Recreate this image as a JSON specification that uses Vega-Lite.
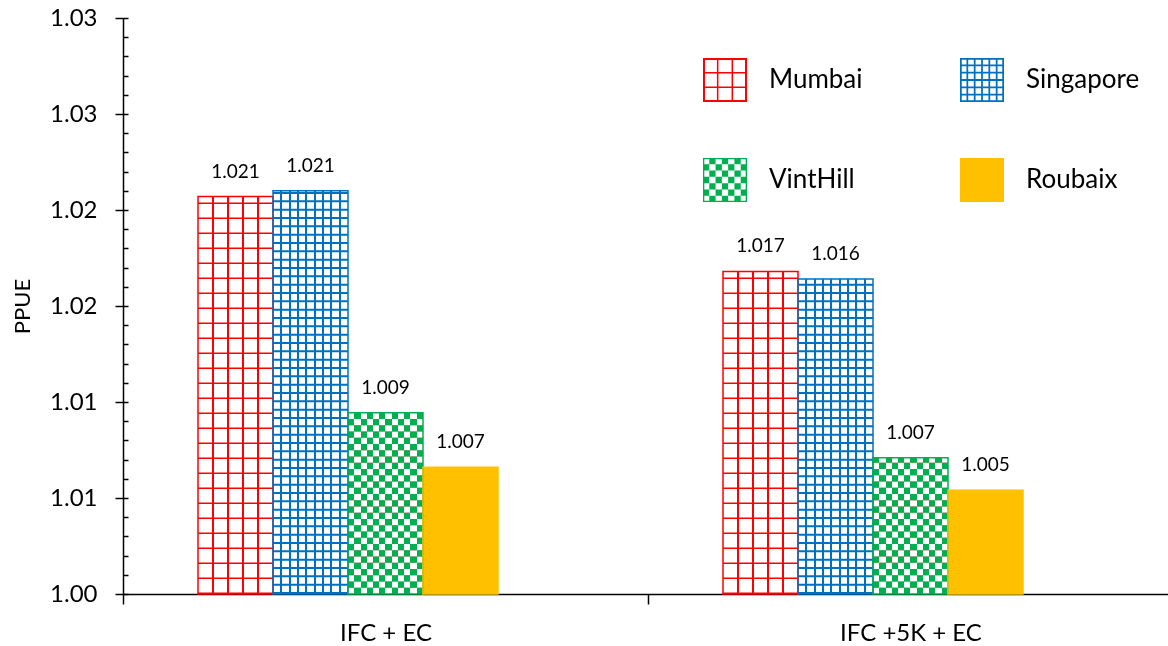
{
  "$schema": "https://vega.github.io/schema/vega-lite/v6.json",
  "width": 1045,
  "height": 576,
  "autosize": {"type": "none"},
  "padding": {"left": 123, "top": 18, "right": 0, "bottom": 52},
  "background": "white",
  "config": {"font": "Lato", "view": {"stroke": null}, "axis": {"grid": false}},
  "data": {
    "values": [
      {"group": "IFC + EC", "city": "Mumbai", "value": 1.0207},
      {"group": "IFC + EC", "city": "Singapore", "value": 1.021},
      {"group": "IFC + EC", "city": "VintHill", "value": 1.00944},
      {"group": "IFC + EC", "city": "Roubaix", "value": 1.0066},
      {"group": "IFC +5K + EC", "city": "Mumbai", "value": 1.0168},
      {"group": "IFC +5K + EC", "city": "Singapore", "value": 1.0164},
      {"group": "IFC +5K + EC", "city": "VintHill", "value": 1.0071},
      {"group": "IFC +5K + EC", "city": "Roubaix", "value": 1.0054}
    ]
  },
  "encoding": {
    "x": {
      "field": "group", "type": "nominal",
      "scale": {"domain": ["IFC + EC", "IFC +5K + EC"], "range": [0, 1050], "paddingInner": 0, "paddingOuter": 0},
      "axis": {"title": null, "tickBand": "extent", "tickSize": 10, "tickWidth": 1.5, "tickColor": "#000", "domainColor": "#000", "domainWidth": 1.5, "labelFontSize": 24, "labelColor": "#000", "labelPadding": 17, "labelAngle": 0}
    },
    "xOffset": {
      "field": "city", "type": "nominal",
      "scale": {"domain": ["Mumbai", "Singapore", "VintHill", "Roubaix", "~"], "paddingInner": 0, "paddingOuter": 1, "align": 0.5}
    },
    "y": {"field": "value", "type": "quantitative", "scale": {"domain": [1, 1.03], "nice": false, "zero": false}, "axis": null}
  },
  "layer": [
    {
      "mark": {"type": "point", "filled": true, "opacity": 1, "size": 16, "strokeWidth": 0},
      "encoding": {
        "y": {"datum": 1.002, "type": "quantitative", "scale": {"domain": [1, 1.03], "nice": false, "zero": false}, "axis": null},
        "color": {
          "field": "city", "type": "nominal",
          "scale": {"domain": ["Mumbai", "Singapore", "VintHill", "Roubaix"], "range": ["#FF0000", "#0070C0", "#00B050", "#FFC000"]},
          "legend": {
            "title": null, "orient": "none", "legendX": 580, "legendY": 40, "columns": 2, "direction": "horizontal",
            "symbolSize": 1936, "symbolStrokeWidth": 0, "symbolOpacity": 1, "labelFontSize": 26, "labelOffset": 22, "labelColor": "#000",
            "rowPadding": 56, "columnPadding": 97, "padding": 0
          }
        },
        "shape": {
          "field": "city", "type": "nominal",
          "scale": {
            "domain": ["Mumbai", "Singapore", "VintHill", "Roubaix"],
            "range": [
              "M-1,-1H1V1H-1Z M-0.91,-0.91V0.91H0.91V-0.91Z M-0.368,-1H-0.298V1H-0.368Z M0.298,-1H0.368V1H0.298Z M-1,-0.368H1V-0.298H-1Z M-1,0.298H1V0.368H-1Z",
              "M-1,-1H1V1H-1Z M-0.92,-0.92V0.92H0.92V-0.92Z M-0.707,-1H-0.627V1H-0.707Z M-0.373,-1H-0.293V1H-0.373Z M-0.04,-1H0.04V1H-0.04Z M0.293,-1H0.373V1H0.293Z M0.627,-1H0.707V1H0.627Z M-1,-0.707H1V-0.627H-1Z M-1,-0.373H1V-0.293H-1Z M-1,-0.04H1V0.04H-1Z M-1,0.293H1V0.373H-1Z M-1,0.627H1V0.707H-1Z",
              "M-1,-1H1V1H-1Z M-0.94,-0.94V0.94H0.94V-0.94Z M-0.7143,-1h0.2857v0.2857h-0.2857z M-0.1429,-1h0.2857v0.2857h-0.2857z M0.4286,-1h0.2857v0.2857h-0.2857z M-1,-0.7143h0.2857v0.2857h-0.2857z M-0.4286,-0.7143h0.2857v0.2857h-0.2857z M0.1429,-0.7143h0.2857v0.2857h-0.2857z M0.7143,-0.7143h0.2857v0.2857h-0.2857z M-0.7143,-0.4286h0.2857v0.2857h-0.2857z M-0.1429,-0.4286h0.2857v0.2857h-0.2857z M0.4286,-0.4286h0.2857v0.2857h-0.2857z M-1,-0.1429h0.2857v0.2857h-0.2857z M-0.4286,-0.1429h0.2857v0.2857h-0.2857z M0.1429,-0.1429h0.2857v0.2857h-0.2857z M0.7143,-0.1429h0.2857v0.2857h-0.2857z M-0.7143,0.1429h0.2857v0.2857h-0.2857z M-0.1429,0.1429h0.2857v0.2857h-0.2857z M0.4286,0.1429h0.2857v0.2857h-0.2857z M-1,0.4286h0.2857v0.2857h-0.2857z M-0.4286,0.4286h0.2857v0.2857h-0.2857z M0.1429,0.4286h0.2857v0.2857h-0.2857z M0.7143,0.4286h0.2857v0.2857h-0.2857z M-0.7143,0.7143h0.2857v0.2857h-0.2857z M-0.1429,0.7143h0.2857v0.2857h-0.2857z M0.4286,0.7143h0.2857v0.2857h-0.2857z",
              "square"
            ]
          },
          "legend": {
            "title": null, "orient": "none", "legendX": 580, "legendY": 40, "columns": 2, "direction": "horizontal",
            "symbolSize": 1936, "symbolStrokeWidth": 0, "symbolOpacity": 1, "labelFontSize": 26, "labelOffset": 22, "labelColor": "#000",
            "rowPadding": 56, "columnPadding": 97, "padding": 0
          }
        }
      }
    },
    {
      "transform": [{"filter": "datum.city === 'Mumbai'"}],
      "mark": {"type": "bar", "fill": {"gradient": "linear", "x1": 0, "y1": 0, "x2": 1, "y2": 0, "stops": [{"offset":0,"color":"#FFFFFF"},{"offset":0.19,"color":"#FFFFFF"},{"offset":0.19,"color":"#FF0000"},{"offset":0.21,"color":"#FF0000"},{"offset":0.21,"color":"#FFFFFF"},{"offset":0.39,"color":"#FFFFFF"},{"offset":0.39,"color":"#FF0000"},{"offset":0.41,"color":"#FF0000"},{"offset":0.41,"color":"#FFFFFF"},{"offset":0.59,"color":"#FFFFFF"},{"offset":0.59,"color":"#FF0000"},{"offset":0.61,"color":"#FF0000"},{"offset":0.61,"color":"#FFFFFF"},{"offset":0.79,"color":"#FFFFFF"},{"offset":0.79,"color":"#FF0000"},{"offset":0.81,"color":"#FF0000"},{"offset":0.81,"color":"#FFFFFF"},{"offset":1,"color":"#FFFFFF"}]}},
      "encoding": {
        "y": {
          "field": "value", "type": "quantitative",
          "scale": {"domain": [1, 1.03], "nice": false, "zero": false},
          "axis": {"orient": "left", "values": [1, 1.005, 1.01, 1.015, 1.02, 1.025, 1.03], "labelExpr": "format(datum.value + 0.000001, '.2f')", "tickSize": 8, "tickWidth": 1.5, "tickColor": "#000", "domainColor": "#000", "domainWidth": 1.5, "labelFontSize": 24, "labelColor": "#000", "labelPadding": 18, "title": "PPUE", "titleFontSize": 22, "titleFontWeight": "normal", "titleColor": "#000", "titlePadding": 15, "grid": false}
        },
        "y2": {"datum": 1}
      }
    },
    {
      "transform": [{"filter": "datum.city === 'Singapore'"}],
      "mark": {"type": "bar", "fill": {"gradient": "linear", "x1": 0, "y1": 0, "x2": 1, "y2": 0, "stops": [{"offset":0,"color":"#FFFFFF"},{"offset":0.098,"color":"#FFFFFF"},{"offset":0.098,"color":"#0070C0"},{"offset":0.124,"color":"#0070C0"},{"offset":0.124,"color":"#FFFFFF"},{"offset":0.209,"color":"#FFFFFF"},{"offset":0.209,"color":"#0070C0"},{"offset":0.235,"color":"#0070C0"},{"offset":0.235,"color":"#FFFFFF"},{"offset":0.32,"color":"#FFFFFF"},{"offset":0.32,"color":"#0070C0"},{"offset":0.346,"color":"#0070C0"},{"offset":0.346,"color":"#FFFFFF"},{"offset":0.431,"color":"#FFFFFF"},{"offset":0.431,"color":"#0070C0"},{"offset":0.457,"color":"#0070C0"},{"offset":0.457,"color":"#FFFFFF"},{"offset":0.543,"color":"#FFFFFF"},{"offset":0.543,"color":"#0070C0"},{"offset":0.569,"color":"#0070C0"},{"offset":0.569,"color":"#FFFFFF"},{"offset":0.654,"color":"#FFFFFF"},{"offset":0.654,"color":"#0070C0"},{"offset":0.68,"color":"#0070C0"},{"offset":0.68,"color":"#FFFFFF"},{"offset":0.765,"color":"#FFFFFF"},{"offset":0.765,"color":"#0070C0"},{"offset":0.791,"color":"#0070C0"},{"offset":0.791,"color":"#FFFFFF"},{"offset":0.876,"color":"#FFFFFF"},{"offset":0.876,"color":"#0070C0"},{"offset":0.902,"color":"#0070C0"},{"offset":0.902,"color":"#FFFFFF"},{"offset":1,"color":"#FFFFFF"}]}},
      "encoding": {"y2": {"datum": 1}}
    },
    {
      "transform": [{"filter": "datum.city === 'VintHill'"}],
      "mark": {"type": "bar", "fill": "#FFFFFF"},
      "encoding": {"y2": {"datum": 1}}
    },
    {
      "transform": [{"filter": "datum.city === 'Roubaix'"}],
      "mark": {"type": "bar", "fill": "#FFC000"},
      "encoding": {"y2": {"datum": 1}}
    },
    {
      "transform": [{"filter": "datum.city === 'Mumbai'"}],
      "mark": {"type": "rule", "color": "#FF0000", "strokeWidth": 75, "strokeDash": [1.5, 13.5]},
      "encoding": {
        "y": {"datum": 1, "type": "quantitative", "scale": {"domain": [1, 1.03], "nice": false, "zero": false}, "axis": null},
        "y2": {"field": "value"}
      }
    },
    {
      "transform": [{"filter": "datum.city === 'Singapore'"}],
      "mark": {"type": "rule", "color": "#0070C0", "strokeWidth": 75, "strokeDash": [2, 6.333]},
      "encoding": {
        "y": {"datum": 1, "type": "quantitative", "scale": {"domain": [1, 1.03], "nice": false, "zero": false}, "axis": null},
        "y2": {"field": "value"}
      }
    },
    {
      "transform": [{"filter": "datum.city === 'VintHill'"}],
      "mark": {"type": "rule", "color": "#000000", "strokeWidth": 75, "strokeDash": [6.25, 6.25]},
      "encoding": {
        "y": {"datum": 1, "type": "quantitative", "scale": {"domain": [1, 1.03], "nice": false, "zero": false}, "axis": null},
        "y2": {"field": "value"}
      }
    },
    {
      "transform": [{"filter": "datum.city === 'VintHill'"}],
      "mark": {"type": "bar", "blend": "difference", "fill": {"gradient": "linear", "x1": 0, "y1": 0, "x2": 1, "y2": 0, "stops": [{"offset":0,"color":"#FFFFFF"},{"offset":0.0833,"color":"#FFFFFF"},{"offset":0.0833,"color":"#000000"},{"offset":0.1667,"color":"#000000"},{"offset":0.1667,"color":"#FFFFFF"},{"offset":0.25,"color":"#FFFFFF"},{"offset":0.25,"color":"#000000"},{"offset":0.3333,"color":"#000000"},{"offset":0.3333,"color":"#FFFFFF"},{"offset":0.4167,"color":"#FFFFFF"},{"offset":0.4167,"color":"#000000"},{"offset":0.5,"color":"#000000"},{"offset":0.5,"color":"#FFFFFF"},{"offset":0.5833,"color":"#FFFFFF"},{"offset":0.5833,"color":"#000000"},{"offset":0.6667,"color":"#000000"},{"offset":0.6667,"color":"#FFFFFF"},{"offset":0.75,"color":"#FFFFFF"},{"offset":0.75,"color":"#000000"},{"offset":0.8333,"color":"#000000"},{"offset":0.8333,"color":"#FFFFFF"},{"offset":0.9167,"color":"#FFFFFF"},{"offset":0.9167,"color":"#000000"},{"offset":1,"color":"#000000"}]}},
      "encoding": {"y2": {"datum": 1}}
    },
    {
      "transform": [{"filter": "datum.city === 'VintHill'"}],
      "mark": {"type": "bar", "blend": "lighten", "fill": "#00B050"},
      "encoding": {"y2": {"datum": 1}}
    },
    {
      "mark": {"type": "bar", "fill": "transparent", "strokeWidth": 1.5},
      "encoding": {
        "y2": {"datum": 1},
        "stroke": {
          "field": "city", "type": "nominal",
          "scale": {"domain": ["Mumbai", "Singapore", "VintHill", "Roubaix"], "range": ["#FF0000", "#0070C0", "#00B050", "#FFC000"]},
          "legend": null
        },
        "y": {
          "field": "value", "type": "quantitative",
          "scale": {"domain": [1, 1.03], "nice": false, "zero": false},
          "axis": {"orient": "left", "values": [1, 1.001, 1.002, 1.003, 1.004, 1.005, 1.006, 1.007, 1.008, 1.009, 1.01, 1.011, 1.012, 1.013, 1.014, 1.015, 1.016, 1.017, 1.018, 1.019, 1.02, 1.021, 1.022, 1.023, 1.024, 1.025, 1.026, 1.027, 1.028, 1.029, 1.03], "tickSize": -5, "tickWidth": 1.5, "tickColor": "#000", "labels": false, "domain": false, "title": null, "grid": false}
        }
      }
    },
    {
      "mark": {"type": "text", "dy": -25, "fontSize": 19, "color": "#000000"},
      "encoding": {
        "text": {"field": "value", "type": "quantitative", "format": ".3f"}
      }
    }
  ],
  "resolve": {"axis": {"y": "independent"}, "scale": {"y": "shared"}}
}
